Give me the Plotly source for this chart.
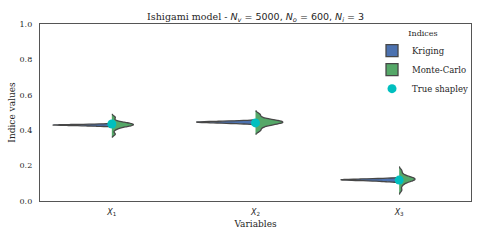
import plotly.graph_objects as go

categories = ["X1", "X2", "X3"]
tick_labels = ["<i>X</i><sub>1</sub>", "<i>X</i><sub>2</sub>", "<i>X</i><sub>3</sub>"]

kriging = {
    "X1": [0.423, 0.425, 0.427, 0.428, 0.429, 0.429, 0.430, 0.431, 0.432, 0.434],
    "X2": [0.437, 0.440, 0.442, 0.444, 0.445, 0.446, 0.447, 0.448, 0.450, 0.453],
    "X3": [0.110, 0.114, 0.116, 0.118, 0.119, 0.120, 0.121, 0.122, 0.124, 0.127],
}
monte_carlo = {
    "X1": [0.378, 0.405, 0.418, 0.423, 0.427, 0.430, 0.432, 0.434, 0.437, 0.441, 0.448, 0.472],
    "X2": [0.398, 0.418, 0.430, 0.436, 0.440, 0.444, 0.446, 0.449, 0.452, 0.457, 0.466, 0.488],
    "X3": [0.062, 0.090, 0.106, 0.113, 0.118, 0.122, 0.124, 0.127, 0.130, 0.136, 0.146, 0.170],
}
true_shapley = [0.435, 0.441, 0.118]

kriging_width = {"X1": 0.82, "X2": 0.82, "X3": 0.81}
mc_width = {"X1": 0.30, "X2": 0.38, "X3": 0.22}

blue = "#4c72b0"
green = "#55a868"
edge = "#474747"
serif = "'DejaVu Serif', serif"
sans = "'DejaVu Sans', sans-serif"

fig = go.Figure()
for i, c in enumerate(categories):
    fig.add_trace(go.Violin(
        x=[c] * len(kriging[c]), y=kriging[c], side="negative",
        width=kriging_width[c], scalegroup="k" + c, scalemode="width",
        fillcolor=blue, line=dict(color=edge, width=1.3), opacity=1,
        points=False, name="Kriging", legendgroup="k", showlegend=(i == 0),
        hoverinfo="skip",
    ))
    fig.add_trace(go.Violin(
        x=[c] * len(monte_carlo[c]), y=monte_carlo[c], side="positive",
        width=mc_width[c], scalegroup="m" + c, scalemode="width",
        fillcolor=green, line=dict(color=edge, width=1.3), opacity=1,
        points=False, name="Monte-Carlo", legendgroup="m", showlegend=(i == 0),
        hoverinfo="skip",
    ))

fig.add_trace(go.Scatter(
    x=categories, y=true_shapley, mode="markers",
    marker=dict(color="#00bfbf", size=9), name="True shapley",
))

fig.update_layout(
    width=480, height=240,
    margin=dict(l=40, r=9, t=24, b=39, autoexpand=False),
    paper_bgcolor="white", plot_bgcolor="white",
    violinmode="overlay", violingap=0, violingroupgap=0,
    font=dict(family=serif, size=8, color="#262626"),
    title=dict(
        text="Ishigami model - <span style=\"font-family:'DejaVu Sans'\"><i>N</i><sub><i>v</i></sub> = 5000, "
             "<i>N</i><sub><i>o</i></sub> = 600, <i>N</i><sub><i>i</i></sub> = 3</span>",
        x=0.5325, xanchor="center", y=0.93, yanchor="middle",
        font=dict(family=serif, size=9.5, color="#262626"),
    ),
    legend=dict(
        x=1.007, xanchor="right", y=0.99, yanchor="top",
        title=dict(text="Indices", side="top center", font=dict(family=serif, size=8)),
        font=dict(family=serif, size=8.5),
        bgcolor="rgba(0,0,0,0)", tracegroupgap=0,
    ),
    showlegend=True,
)
fig.update_xaxes(
    type="category", categoryorder="array", categoryarray=categories,
    range=[-0.5, 2.5], tickvals=categories, ticktext=tick_labels,
    showline=True, mirror=True, linecolor="#555555", linewidth=1.3,
    showgrid=False, zeroline=False, automargin=False,
    ticks="outside", ticklen=3, tickcolor="rgba(0,0,0,0)",
    tickfont=dict(family=sans, size=8),
    title=dict(text="Variables", font=dict(family=serif, size=9), standoff=4),
)
fig.update_yaxes(
    range=[0, 1], tickvals=[0, 0.2, 0.4, 0.6, 0.8, 1.0], tickformat=".1f",
    showline=True, mirror=True, linecolor="#555555", linewidth=1.3,
    showgrid=False, zeroline=False, automargin=False,
    ticks="outside", ticklen=5, tickcolor="rgba(0,0,0,0)",
    tickfont=dict(family=serif, size=8),
    title=dict(text="Indice values", font=dict(family=serif, size=9), standoff=2),
)

fig.write_html("out.html", config={"displayModeBar": False},
               post_script="document.body.style.margin='0';")
